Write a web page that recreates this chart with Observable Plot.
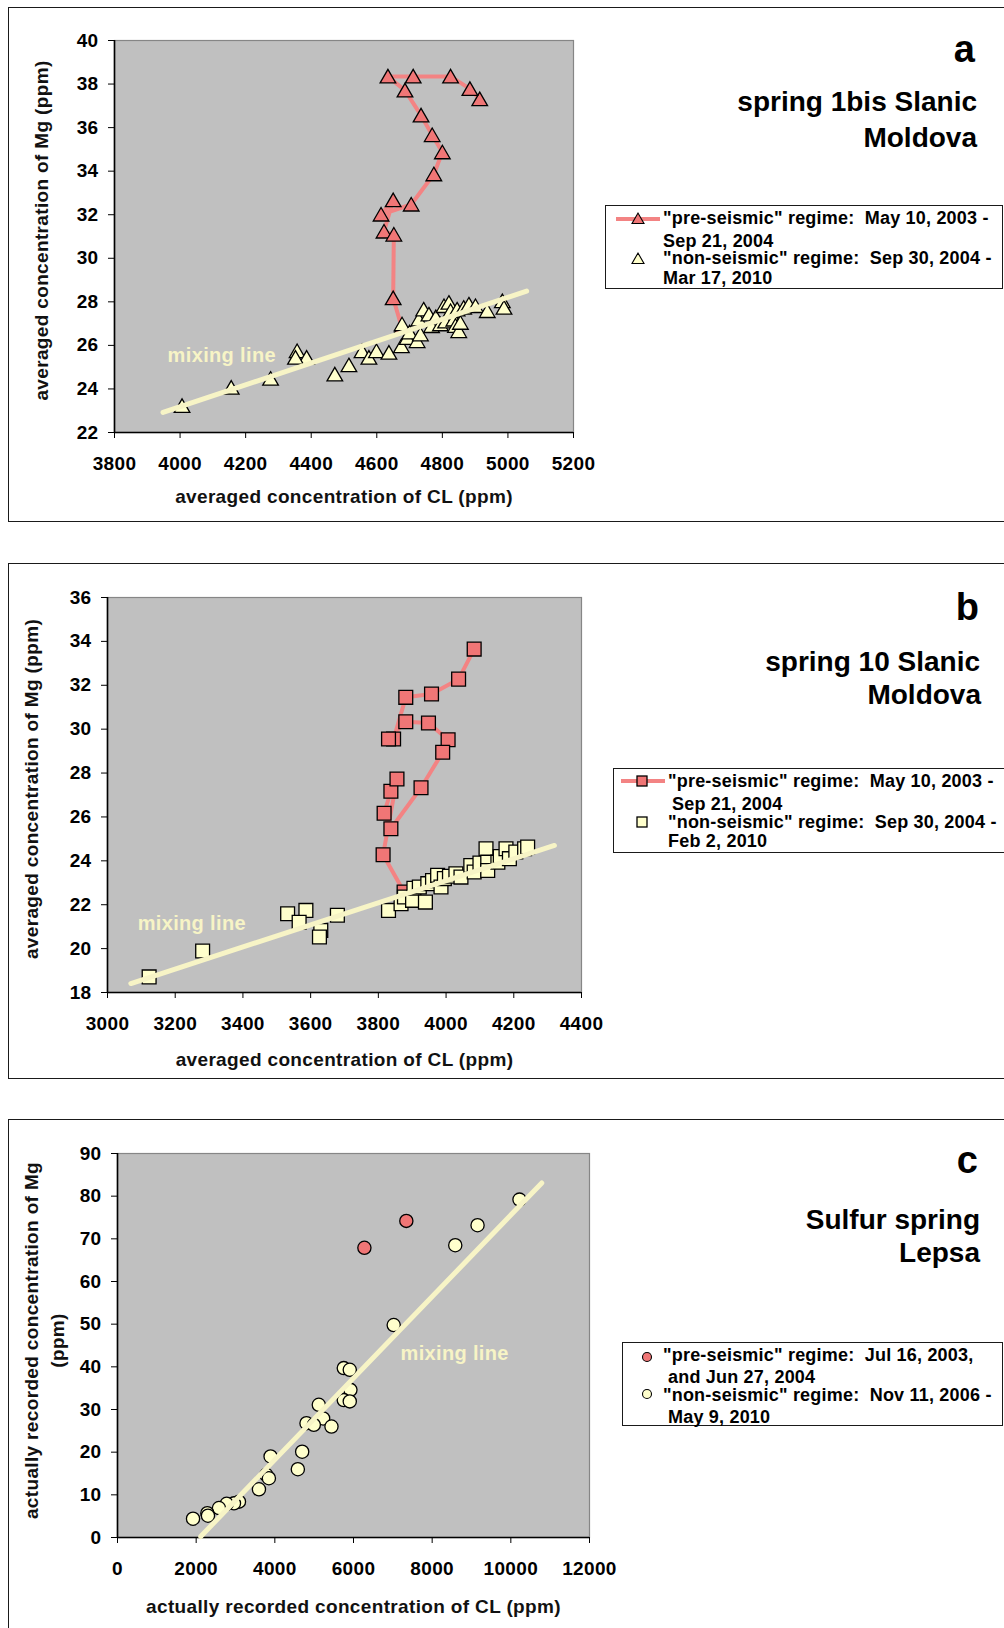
<!DOCTYPE html>
<html>
<head>
<meta charset="utf-8">
<script src="https://cdn.jsdelivr.net/npm/d3@7"></script>
<script src="https://cdn.jsdelivr.net/npm/@observablehq/plot@0.6"></script>
<style>
html,body{margin:0;padding:0;background:#fff;}
#page{position:relative;width:1004px;height:1628px;overflow:hidden;background:#fff;font-family:"Liberation Sans",Arial,Helvetica,sans-serif;font-weight:bold;color:#000;}
.panel{position:absolute;left:8px;width:1010px;border:1.5px solid #1a1a1a;box-sizing:border-box;background:#fff;}
.chart{position:absolute;left:0;}
.t{position:absolute;white-space:pre;}
.legend{position:absolute;border:1.5px solid #1a1a1a;box-sizing:border-box;background:#fff;}
</style>
</head>
<body>
<div id="page"></div>
<script>
// ---------------- Panel a: spring 1bis Slanic Moldova ----------------
const aXTicks = [3800, 4000, 4200, 4400, 4600, 4800, 5000, 5200];
const aYTicks = [22, 24, 26, 28, 30, 32, 34, 36, 38, 40];
const aPreCl = [4914, 4884, 4825, 4711, 4634, 4686, 4735, 4769, 4800, 4774, 4705, 4613, 4650, 4622, 4652, 4650, 4676];
const aPreMg = [37.31, 37.78, 38.35, 38.35, 38.35, 37.71, 36.56, 35.66, 34.87, 33.86, 32.47, 32.01, 32.67, 31.23, 31.09, 28.17, 26.84];
const aNonCl = [4006, 4156, 4276, 4357, 4386, 4352, 4472, 4515, 4555, 4576, 4599, 4637, 4675, 4677, 4693, 4700, 4723, 4733, 4728, 4743, 4759, 4767, 4780, 4794, 4805, 4810, 4820, 4825, 4835, 4840, 4850, 4845, 4855, 4865, 4881, 4901, 4937, 4983, 4988];
const aNonMg = [23.22, 24.06, 24.47, 25.74, 25.44, 25.44, 24.67, 25.09, 25.74, 25.44, 25.74, 25.67, 25.97, 26.97, 26.35, 26.6, 26.20, 26.51, 27.19, 27.65, 27.42, 26.89, 27.3, 26.97, 27.81, 27.1, 27.96, 27.58, 27.19, 26.9, 26.66, 27.65, 27.04, 27.73, 27.88, 27.81, 27.58, 28.03, 27.73];
const aMixCl = [3948, 5057];
const aMixMg = [22.92, 28.49];
const aMixLabel = [{cl: 3962, mg: 25.55, label: "mixing line"}];
const aLegend = ['"pre-seismic" regime:  May 10, 2003 -', 'Sep 21, 2004', '"non-seismic" regime:  Sep 30, 2004 -', 'Mar 17, 2010'];

// ---------------- Panel b: spring 10 Slanic Moldova ----------------
const bXTicks = [3000, 3200, 3400, 3600, 3800, 4000, 4200, 4400];
const bYTicks = [18, 20, 22, 24, 26, 28, 30, 32, 34, 36];
const bPreCl = [4083, 4037, 3957, 3881, 3845, 3830, 3881, 3948, 4006, 3990, 3926, 3837, 3817, 3837, 3855, 3814, 3876];
const bPreMg = [33.65, 32.28, 31.60, 31.45, 29.55, 29.55, 30.34, 30.28, 29.52, 28.95, 27.33, 25.46, 26.17, 27.17, 27.73, 24.28, 22.58];
const bNonCl = [3123, 3281, 3532, 3586, 3566, 3630, 3626, 3679, 3830, 3867, 3877, 3901, 3905, 3921, 3939, 3946, 3960, 3975, 3985, 3995, 4010, 4029, 4044, 4073, 4083, 4100, 4118, 4123, 4123, 4153, 4160, 4177, 4187, 4206, 4232, 4241];
const bNonMg = [18.71, 19.89, 21.59, 21.74, 21.2, 20.83, 20.53, 21.52, 21.74, 22.05, 22.35, 22.2, 22.75, 22.81, 22.12, 22.96, 23.1, 23.34, 22.81, 23.19, 23.3, 23.41, 23.26, 23.79, 23.49, 23.9, 24.55, 23.94, 23.56, 23.94, 24.2, 24.55, 24.1, 24.4, 24.55, 24.63];
const bMixCl = [3069, 4320];
const bMixMg = [18.41, 24.70];
const bMixLabel = [{cl: 3089, mg: 21.14, label: "mixing line"}];
const bLegend = ['"pre-seismic" regime:  May 10, 2003 -', 'Sep 21, 2004', '"non-seismic" regime:  Sep 30, 2004 -', 'Feb 2, 2010'];

// ---------------- Panel c: Sulfur spring Lepsa ----------------
const cXTicks = [0, 2000, 4000, 6000, 8000, 10000, 12000];
const cYTicks = [0, 10, 20, 30, 40, 50, 60, 70, 80, 90];
const cPreCl = [6277, 7343];
const cPreMg = [67.9, 74.2];
const cNonCl = [10220, 9154, 8587, 7022, 5753, 5905, 5922, 5753, 5905, 5118, 5228, 5440, 4805, 4991, 4695, 4585, 3892, 3782, 3849, 3596, 3088, 2961, 2775, 2580, 2284, 2300, 1920];
const cNonMg = [79.2, 73.2, 68.5, 49.8, 39.7, 39.3, 34.6, 32.2, 31.9, 31.1, 27.9, 26.0, 26.8, 26.4, 20.1, 16.0, 19.0, 14.7, 13.9, 11.3, 8.4, 8.0, 7.9, 6.9, 5.7, 5.1, 4.4];
const cMixCl = [2115, 10787];
const cMixMg = [0.23, 83.1];
const cMixLabel = [{cl: 7195, mg: 43.1, label: "mixing line"}];
const cLegend = ['"pre-seismic" regime:  Jul 16, 2003,', 'and Jun 27, 2004', '"non-seismic" regime:  Nov 11, 2006 -', 'May 9, 2010'];

const RED = "#f07676";
const RED_LINE = "#f38383";
const CREAM = "#ffffcc";
const MIX = "#f7f4c6";
const FONT = '"Liberation Sans", Arial, Helvetica, sans-serif';

const page = document.getElementById("page");

function rows(xs, ys) { return xs.map((cl, i) => ({cl, mg: ys[i]})); }

function makePanel(c) {
  const pre = rows(c.preCl, c.preMg);
  const non = rows(c.nonCl, c.nonMg);
  const mix = rows(c.mixCl, c.mixMg);
  const marks = [
    Plot.frame({fill: "#c0c0c0", stroke: "#868686", strokeWidth: 1.2}),
    Plot.ruleX([c.xDomain[0]], {stroke: "#000", strokeWidth: 1.6}),
    Plot.ruleY([c.yDomain[0]], {stroke: "#000", strokeWidth: 1.6}),
    Plot.axisX({ticks: c.xTicks, tickFormat: "d", tickSize: 6, tickPadding: 18, label: null}),
    Plot.axisY({ticks: c.yTicks, tickFormat: "d", tickSize: 6, tickPadding: 10, label: null})
  ];
  if (c.preLine) marks.push(Plot.line(pre, {x: "cl", y: "mg", stroke: RED_LINE, strokeWidth: 4}));
  marks.push(Plot.dot(pre, {x: "cl", y: "mg", symbol: c.symbol, r: c.r, dy: c.dy, fill: RED, stroke: "#000", strokeWidth: 1.3}));
  marks.push(Plot.dot(non, {x: "cl", y: "mg", symbol: c.symbol, r: c.r, dy: c.dy, fill: CREAM, stroke: "#000", strokeWidth: 1.3}));
  marks.push(Plot.line(mix, {x: "cl", y: "mg", stroke: MIX, strokeWidth: 5}));
  marks.push(Plot.text(c.mixLabel, {x: "cl", y: "mg", text: "label", textAnchor: "start", lineAnchor: "middle", fill: MIX, fontSize: 20, fontWeight: "bold"}));
  marks.push(Plot.text([c.xLabel], {frameAnchor: "bottom", dy: c.xLabelDy, text: d => d, textAnchor: "middle", lineAnchor: "middle", fontSize: 19, fill: "#111"}));
  marks.push(Plot.text([c.yLabel], {frameAnchor: "left", dx: c.yLabelDx, dy: c.yLabelDy, rotate: -90, text: d => d, textAnchor: "middle", lineAnchor: "middle", fontSize: 19, lineHeight: 1.35, fill: "#111"}));
  const svg = Plot.plot({
    width: 600, height: c.height,
    marginLeft: c.marginLeft, marginRight: c.marginRight, marginTop: c.marginTop, marginBottom: c.marginBottom,
    style: {fontFamily: FONT, fontWeight: "bold", fontSize: "19px", color: "#000", background: "none", overflow: "visible", letterSpacing: "0.35px"},
    x: {domain: c.xDomain},
    y: {domain: c.yDomain},
    marks
  });
  svg.classList.add("chart");
  svg.style.top = c.top + "px";
  svg.style.left = "0px";
  svg.style.position = "absolute";
  return svg;
}

function addDiv(cls, css, text) {
  const d = document.createElement("div");
  d.className = cls;
  Object.assign(d.style, css);
  if (text != null) d.textContent = text;
  page.appendChild(d);
  return d;
}

function title(text, size, baseline, right) {
  addDiv("t", {fontSize: size + "px", lineHeight: size + "px", top: (baseline - 0.8465 * size) + "px", right: right + "px", textAlign: "right"}, text);
}

function legendText(lines, xs, baselines) {
  lines.forEach((s, i) => {
    addDiv("t", {fontSize: "18px", lineHeight: "18px", top: (baselines[i] - 0.8465 * 18) + "px", left: xs[i] + "px", letterSpacing: "0.2px"}, s);
  });
}

// panel frames
addDiv("panel", {top: "7px", height: "515px"});
addDiv("panel", {top: "563px", height: "516px"});
addDiv("panel", {top: "1119px", height: "530px"});

page.appendChild(makePanel({
  top: 0, height: 522, marginLeft: 114, marginRight: 27, marginTop: 40, marginBottom: 90,
  xDomain: [3800, 5200], yDomain: [22, 40], xTicks: aXTicks, yTicks: aYTicks,
  preCl: aPreCl, preMg: aPreMg, nonCl: aNonCl, nonMg: aNonMg, mixCl: aMixCl, mixMg: aMixMg, mixLabel: aMixLabel,
  preLine: true, symbol: "triangle", r: 5.8, dy: 2,
  xLabel: "averaged concentration of CL (ppm)", yLabel: "averaged concentration of Mg (ppm)",
  xLabelDy: 64, yLabelDx: -75, yLabelDy: -6
}));

page.appendChild(makePanel({
  top: 560, height: 520, marginLeft: 107, marginRight: 19, marginTop: 37, marginBottom: 88,
  xDomain: [3000, 4400], yDomain: [18, 36], xTicks: bXTicks, yTicks: bYTicks,
  preCl: bPreCl, preMg: bPreMg, nonCl: bNonCl, nonMg: bNonMg, mixCl: bMixCl, mixMg: bMixMg, mixLabel: bMixLabel,
  preLine: true, symbol: "square", r: 7.8, dy: 0,
  xLabel: "averaged concentration of CL (ppm)", yLabel: "averaged concentration of Mg (ppm)",
  xLabelDy: 67, yLabelDx: -78, yLabelDy: -6
}));

page.appendChild(makePanel({
  top: 1115, height: 513, marginLeft: 117, marginRight: 11, marginTop: 38, marginBottom: 91,
  xDomain: [0, 12000], yDomain: [0, 90], xTicks: cXTicks, yTicks: cYTicks,
  preCl: cPreCl, preMg: cPreMg, nonCl: cNonCl, nonMg: cNonMg, mixCl: cMixCl, mixMg: cMixMg, mixLabel: cMixLabel,
  preLine: false, symbol: "circle", r: 6.6, dy: 0,
  xLabel: "actually recorded concentration of CL (ppm)", yLabel: "actually recorded concentration of Mg\n(ppm)",
  xLabelDy: 69, yLabelDx: -75, yLabelDy: -5
}));

// titles
title("a", 38, 62, 29);
title("spring 1bis Slanic", 28, 112, 27);
title("Moldova", 28, 148, 27);
title("b", 38, 620, 25);
title("spring 10 Slanic", 28, 672, 24);
title("Moldova", 28, 705, 23);
title("c", 38, 1173, 26);
title("Sulfur spring", 28, 1230, 24);
title("Lepsa", 28, 1263, 24);

// legends
addDiv("legend", {left: "605px", top: "205px", width: "398px", height: "84px"});
addDiv("legend", {left: "613px", top: "768px", width: "400px", height: "85px"});
addDiv("legend", {left: "622px", top: "1342px", width: "381px", height: "84px"});
legendText(aLegend, [663, 663, 663, 663], [224, 247, 264, 284]);
legendText(bLegend, [668, 672, 668, 668], [787, 810, 828, 847]);
legendText(cLegend, [663, 668, 663, 668], [1361, 1383, 1401, 1423]);

// legend symbols
const ns = "http://www.w3.org/2000/svg";
const sym = document.createElementNS(ns, "svg");
sym.setAttribute("width", 1004); sym.setAttribute("height", 1628);
Object.assign(sym.style, {position: "absolute", left: "0px", top: "0px", pointerEvents: "none"});
sym.innerHTML = `
  <line x1="616" y1="219" x2="660" y2="219" stroke="${RED_LINE}" stroke-width="4"/>
  <polygon points="632,223.5 644,223.5 638,213" fill="${RED}" stroke="#000" stroke-width="1.1"/>
  <polygon points="632,263.5 644,263.5 638,253" fill="${CREAM}" stroke="#000" stroke-width="1.1"/>
  <line x1="621" y1="781" x2="665" y2="781" stroke="${RED_LINE}" stroke-width="4"/>
  <rect x="637" y="776" width="10" height="10" fill="${RED}" stroke="#000" stroke-width="1.3"/>
  <rect x="637" y="817" width="10" height="10" fill="${CREAM}" stroke="#000" stroke-width="1.3"/>
  <circle cx="647" cy="1357" r="4.5" fill="${RED}" stroke="#000" stroke-width="1.1"/>
  <circle cx="647" cy="1394" r="4.5" fill="${CREAM}" stroke="#000" stroke-width="1.1"/>
`;
page.appendChild(sym);
</script>
</body>
</html>
